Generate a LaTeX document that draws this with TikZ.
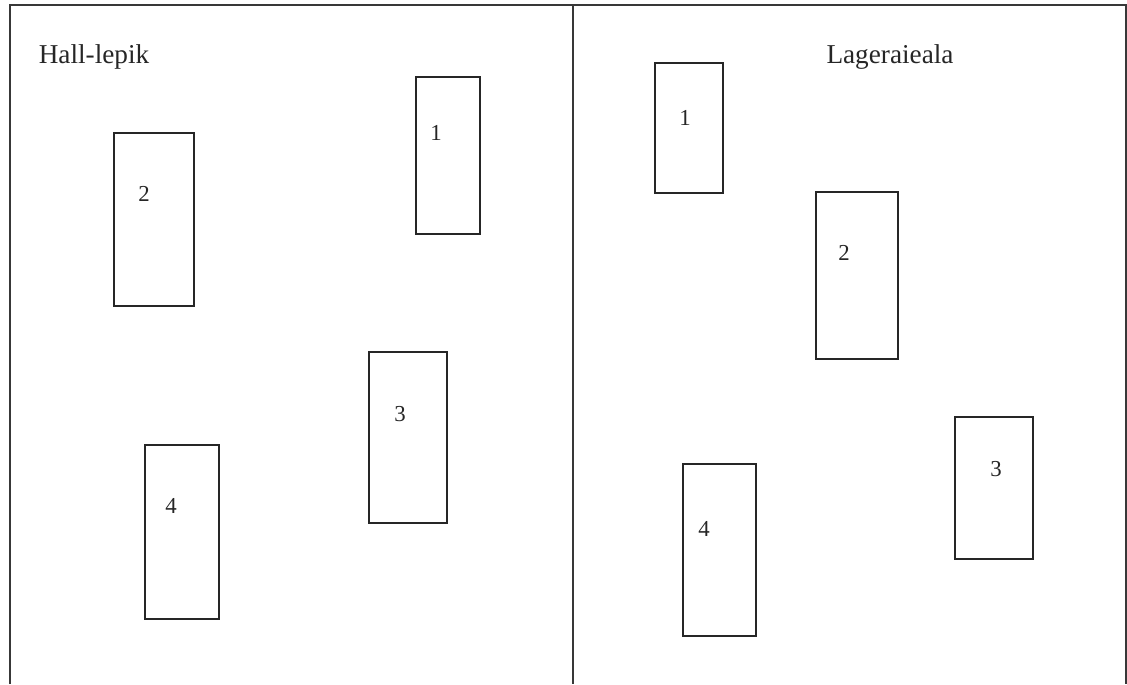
\documentclass[tikz,border=0pt]{standalone}
\usepackage{fontspec}
\setmainfont{Liberation Serif}
\usepackage{tikz}

\begin{document}
\begin{tikzpicture}[
  x=0.02cm, y=-0.02cm,
  frame/.style={line width=1.3pt, draw=black!78},
  plot/.style={rectangle, draw=black!85, line width=0.9pt, inner sep=0pt},
  num/.style={font=\fontsize{13}{15}\selectfont, text=black!85},
  title/.style={font=\fontsize{15.5}{18}\selectfont, text=black!85}
]
\useasboundingbox (0,0) rectangle (1127,684);

% raam
\coordinate (tl) at (10,5);
\coordinate (tr) at (1126,5);
\coordinate (bl) at (10,684);
\coordinate (br) at (1126,684);
\coordinate (mt) at (573,5);
\coordinate (mb) at (573,684);
\draw[frame] (bl) -- (tl) -- (tr) -- (br);
\draw[frame] (mt) -- (mb);

% pealkirjad
\node[title] (hall) at (94,57) {Hall-lepik};
\node[title] (lager) at (890,57) {Lageraieala};

% vasak pool
\node[plot, minimum width=1.28cm, minimum height=3.14cm] (h1) at (448,155.5) {};
\node[plot, minimum width=1.60cm, minimum height=3.46cm] (h2) at (154,219.5) {};
\node[plot, minimum width=1.56cm, minimum height=3.42cm] (h3) at (408,437.5) {};
\node[plot, minimum width=1.48cm, minimum height=3.48cm] (h4) at (182,532) {};
\node[num] (n-h1) at (436,133) {1};
\node[num] (n-h2) at (144,194) {2};
\node[num] (n-h3) at (400,414) {3};
\node[num] (n-h4) at (171,506) {4};

% parem pool
\node[plot, minimum width=1.36cm, minimum height=2.60cm] (l1) at (689,128) {};
\node[plot, minimum width=1.64cm, minimum height=3.34cm] (l2) at (857,275.5) {};
\node[plot, minimum width=1.56cm, minimum height=2.84cm] (l3) at (994,488) {};
\node[plot, minimum width=1.46cm, minimum height=3.44cm] (l4) at (719.5,550) {};
\node[num] (n-l1) at (685,118) {1};
\node[num] (n-l2) at (844,253) {2};
\node[num] (n-l3) at (996,469) {3};
\node[num] (n-l4) at (704,529) {4};
\end{tikzpicture}
\end{document}
